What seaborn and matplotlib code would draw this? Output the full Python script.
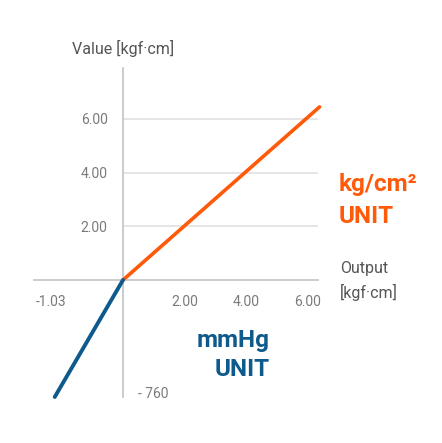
import matplotlib
matplotlib.use("Agg")
import matplotlib.pyplot as plt
import matplotlib.transforms as mtransforms
import seaborn as sns

# kg/cm2 branch (positive quadrant)
kg_x = [0.0, 6.4]
kg_y = [0.0, 6.45]
# mmHg branch (negative quadrant)
mm_x = [0.0, -0.79]
mm_y = [0.0, -760.0]

pos_ticks = [2, 4, 6]
pos_labels = ["2.00", "4.00", "6.00"]
neg_x_label = "-1.03"
neg_y_label = "- 760"

ORANGE = "#ff5a0a"
BLUE = "#0e5a8c"
AXIS = "#c8c8c8"
TICK = "#7a7a7a"

sns.set_style("white")
plt.rcParams["font.family"] = ["Roboto", "DejaVu Sans"]

W, H = 442, 443
fig = plt.figure(figsize=(W / 100, H / 100), dpi=100)

def box(x0, y0, x1, y1):
    return [x0 / W, 1 - y1 / H, (x1 - x0) / W, (y1 - y0) / H]

ax_pos = fig.add_axes(box(123, 68, 318, 280))
ax_neg = fig.add_axes(box(34, 280, 123, 397))

# positive quadrant
sns.lineplot(x=kg_x, y=kg_y, ax=ax_pos, color=ORANGE, lw=2.6, clip_on=False, zorder=5)
ax_pos.set_xlim(0, 6.35)
ax_pos.set_ylim(0, 7.9)
for s in ["top", "right"]:
    ax_pos.spines[s].set_visible(False)
for s in ["left", "bottom"]:
    ax_pos.spines[s].set_color(AXIS)
    ax_pos.spines[s].set_linewidth(1.3)
ax_pos.set_xticks(pos_ticks, pos_labels)
ax_pos.set_yticks(pos_ticks, pos_labels)
ax_pos.tick_params(length=0, labelsize=10, labelcolor=TICK)
ax_pos.tick_params(axis="x", pad=11)
ax_pos.tick_params(axis="y", pad=11)
ax_pos.grid(axis="y", color="#e0e0e0", lw=1.2)
ax_pos.set_axisbelow(True)
ax_pos.patch.set_alpha(0)

# negative quadrant
sns.lineplot(x=mm_x, y=mm_y, ax=ax_neg, color=BLUE, lw=2.8, clip_on=False, zorder=5)
ax_neg.set_xlim(-1.03, 0)
ax_neg.set_ylim(-760, 0)
for s in ["left", "bottom"]:
    ax_neg.spines[s].set_visible(False)
for s in ["top", "right"]:
    ax_neg.spines[s].set_color(AXIS)
    ax_neg.spines[s].set_linewidth(1.3)
ax_neg.set_xticks([])
ax_neg.yaxis.tick_right()
ax_neg.set_yticks([-760], [neg_y_label])
ax_neg.tick_params(axis="y", length=0, labelsize=10, labelcolor=TICK, pad=11)
# nudge the -760 label up a little, like the original
shift = mtransforms.ScaledTranslation(0, 5 / 100, fig.dpi_scale_trans)
for lab in ax_neg.get_yticklabels():
    lab.set_transform(lab.get_transform() + shift)
ax_neg.annotate(neg_x_label, xy=(-1.03, 0), xytext=(1, -11), textcoords="offset points",
                ha="left", va="top", fontsize=10, color=TICK)
ax_neg.patch.set_alpha(0)

# titles / labels
fig.text(123 / W, 1 - 48 / H, "Value [kgf·cm]", ha="center", va="center",
         fontsize=11.5, color="#555555")
fig.text(340 / W, 1 - 268 / H, "Output", ha="left", va="center", fontsize=11.5, color="#555555")
fig.text(340 / W, 1 - 292 / H, "[kgf·cm]", ha="left", va="center", fontsize=11.5, color="#555555")

fig.text(339 / W, 1 - 184 / H, "kg/cm²", ha="left", va="center", fontsize=17.5,
         fontweight="bold", color=ORANGE)
fig.text(339 / W, 1 - 216 / H, "UNIT", ha="left", va="center", fontsize=17.5,
         fontweight="bold", color=ORANGE)
fig.text(270 / W, 1 - 340 / H, "mmHg", ha="right", va="center", fontsize=17.5,
         fontweight="bold", color=BLUE)
fig.text(270 / W, 1 - 369 / H, "UNIT", ha="right", va="center", fontsize=17.5,
         fontweight="bold", color=BLUE)

fig.savefig("out.png", dpi=100, facecolor="white")
